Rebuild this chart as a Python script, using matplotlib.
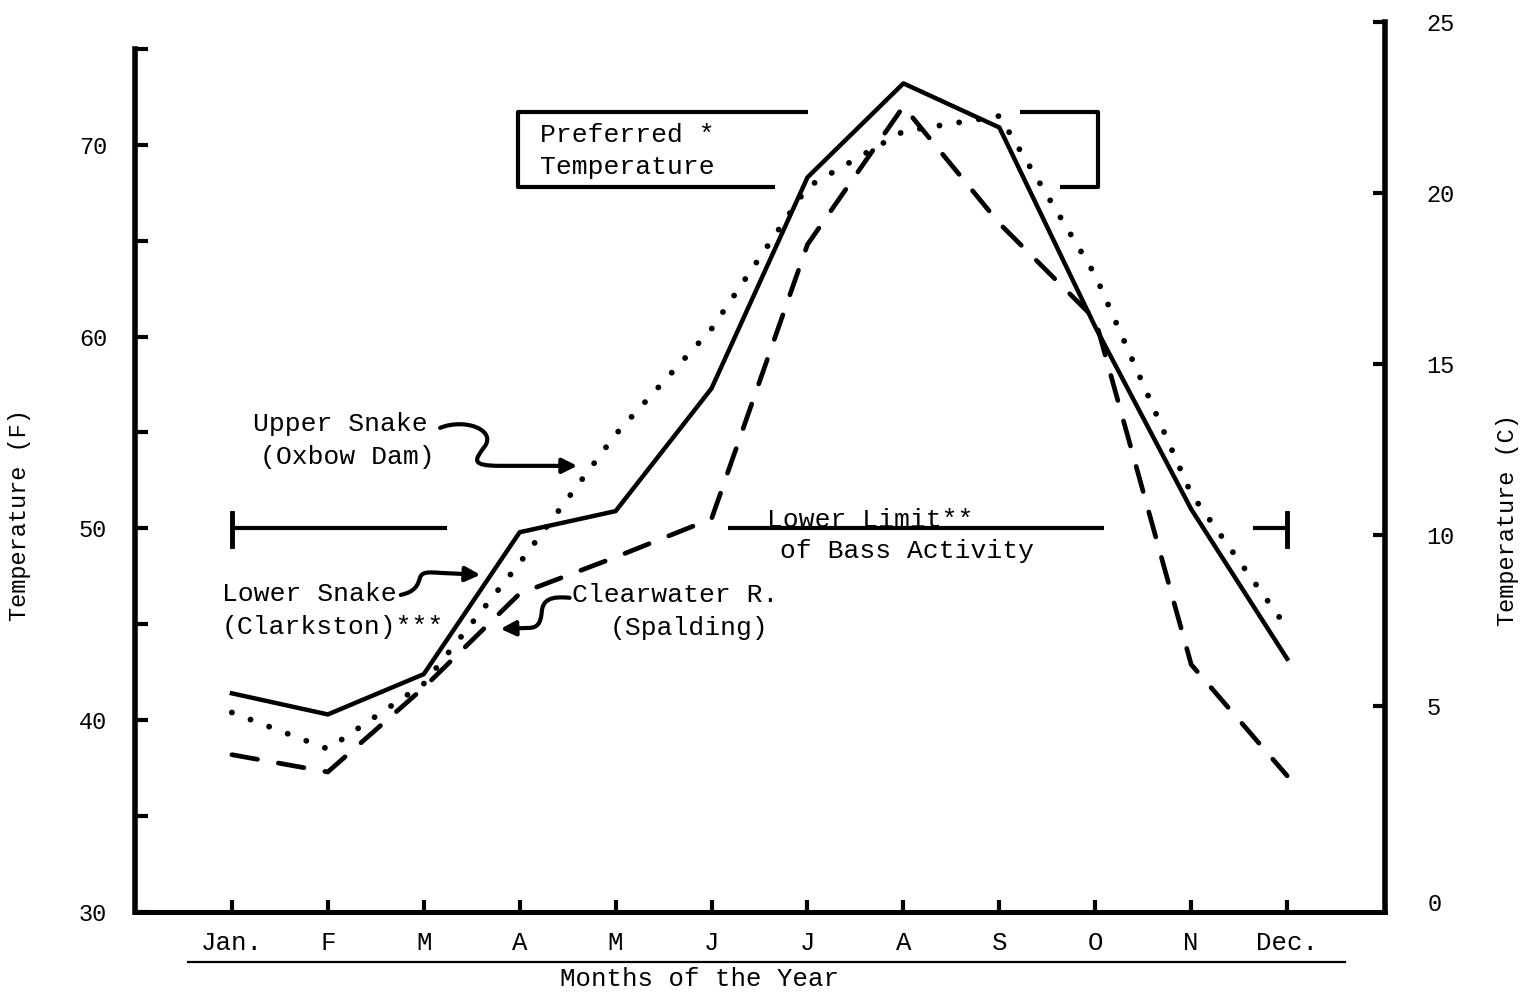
import matplotlib
matplotlib.use("Agg")
import matplotlib.pyplot as plt
from matplotlib.path import Path
from matplotlib.patches import FancyArrowPatch
import numpy as np

# monthly water temperatures (F)
months = ['Jan.', 'F', 'M', 'A', 'M', 'J', 'J', 'A', 'S', 'O', 'N', 'Dec.']
lower_snake = [41.4, 40.3, 42.4, 49.8, 50.9, 57.3, 68.3, 73.2, 70.9, 60.5, 51.0, 43.2]
upper_snake = [40.4, 38.5, 41.9, 48.2, 54.9, 60.4, 67.8, 70.7, 71.5, 63.2, 51.8, 44.8]
clearwater = [38.2, 37.3, 41.7, 46.6, 48.5, 50.5, 64.8, 72.0, 65.9, 60.9, 42.9, 37.1]

f_ticks = [30, 40, 50, 60, 70]
f_minor = [35, 45, 55, 65, 75]
c_ticks = [5, 10, 15, 20, 25]
lower_limit = 50
pref_low, pref_high = 67.8, 71.7

plt.rcParams['font.family'] = ['Liberation Mono', 'DejaVu Sans Mono']

W, H = 1523, 994
fig = plt.figure(figsize=(W / 100, H / 100), dpi=100)
ax = fig.add_axes([135 / W, 82 / H, 1250 / W, 890 / H])
x = np.arange(len(months))

ax.plot(x, lower_snake, color='black', lw=3.2)
ax.plot(x, upper_snake, color='black', lw=4.2, linestyle=(0, (0.01, 3.4)),
        dash_capstyle='round')
ax.plot(x, clearwater, color='black', lw=3.4, linestyle=(0, (5.5, 4.5)),
        dash_capstyle='round')

ax.set_xlim(-1.01, 12.02)
ax.set_ylim(30, 76.4)

for s in ['top', 'right']:
    ax.spines[s].set_visible(False)
ax.spines['left'].set_bounds(30, 75)
ax.spines['left'].set_linewidth(4)
ax.spines['bottom'].set_linewidth(3.6)

ax.set_yticks(f_ticks)
ax.set_yticks(f_minor, minor=True)
ax.tick_params(axis='y', which='both', direction='in', length=9, width=3,
               pad=20, labelsize=17)
ax.set_xticks(x, months)
ax.tick_params(axis='x', direction='in', length=9, width=3, pad=14, labelsize=18.5)

ax.set_ylabel('Temperature (F)', fontsize=17)
ax.yaxis.set_label_coords(-0.083, 0.446)
ax.set_xlabel('Months of the Year', fontsize=18.5)
ax.xaxis.set_label_coords(0.452, -0.062)

# underline beneath the month names
ax.plot([0.0424, 0.968], [-0.0562, -0.0562], transform=ax.transAxes,
        clip_on=False, color='black', lw=1.6)

# celsius axis on the right
ax2 = ax.twinx()
ax2.set_ylim(-1.03, 25)
for s in ['top', 'left', 'bottom']:
    ax2.spines[s].set_visible(False)
ax2.spines['right'].set_linewidth(4)
ax2.set_yticks(c_ticks)
ax2.tick_params(axis='y', direction='in', length=9, width=3, pad=30, labelsize=17)
ax2.text(1.0344, 0.008, '0', transform=ax2.transAxes, fontsize=17,
         ha='left', va='center')
ax2.set_ylabel('Temperature (C)', fontsize=17)
ax2.yaxis.set_label_coords(1.089, 0.44)

# preferred temperature bracket
kw = dict(color='black', lw=3, solid_capstyle='butt')
ax.plot([6.01, 2.98, 2.98, 5.66], [pref_high, pref_high, pref_low, pref_low], **kw)
ax.plot([8.22, 9.03, 9.03, 8.63], [pref_high, pref_high, pref_low, pref_low], **kw)
ax.text(3.21, 70.5, 'Preferred *', fontsize=19, va='center')
ax.text(3.21, 68.85, 'Temperature', fontsize=19, va='center')

# lower limit of bass activity
ax.plot([0, 2.24], [lower_limit, lower_limit], **kw)
ax.plot([5.17, 9.09], [lower_limit, lower_limit], **kw)
ax.plot([10.64, 11.0], [lower_limit, lower_limit], **kw)
ax.plot([0, 0], [49.1, 50.8], color='black', lw=3.5)
ax.plot([11, 11], [49.1, 50.8], color='black', lw=3.5)
ax.text(5.58, 50.45, 'Lower Limit**', fontsize=19, va='center')
ax.text(5.71, 48.83, 'of Bass Activity', fontsize=19, va='center')

# series labels
ax.text(0.22, 55.45, 'Upper Snake', fontsize=19, va='center')
ax.text(0.29, 53.73, '(Oxbow Dam)', fontsize=19, va='center')
ax.text(-0.104, 46.58, 'Lower Snake', fontsize=19, va='center')
ax.text(-0.104, 44.86, '(Clarkston)***', fontsize=19, va='center')
ax.text(3.55, 46.53, 'Clearwater R.', fontsize=19, va='center')
ax.text(3.94, 44.81, '(Spalding)', fontsize=19, va='center')

C4, L2 = Path.CURVE4, Path.LINETO


def squiggle(verts, codes):
    p = Path(verts, [Path.MOVETO] + codes)
    a = FancyArrowPatch(path=p, arrowstyle='-|>', mutation_scale=22,
                        color='black', lw=3, shrinkA=0, shrinkB=0)
    ax.add_patch(a)


squiggle([(2.17, 55.24), (2.43, 55.76), (2.75, 55.14), (2.64, 54.30),
          (2.53, 53.57), (2.48, 53.26), (2.80, 53.26), (3.60, 53.26)],
         [C4, C4, C4, C4, C4, C4, L2])
squiggle([(1.76, 46.53), (1.91, 46.69), (1.94, 47.05), (1.96, 47.42),
          (1.98, 47.73), (2.04, 47.73), (2.17, 47.68), (2.59, 47.58)],
         [C4, C4, C4, C4, C4, C4, L2])
squiggle([(3.52, 46.38), (3.32, 46.48), (3.24, 46.27), (3.23, 45.65),
          (3.22, 45.02), (3.18, 44.81), (3.09, 44.81), (2.80, 44.76)],
         [C4, C4, C4, C4, C4, C4, L2])

fig.savefig('out.png', dpi=100)
